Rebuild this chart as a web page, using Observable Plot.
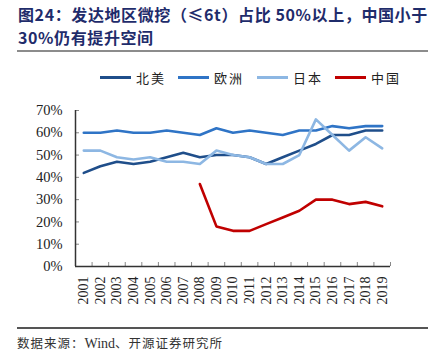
<!DOCTYPE html>
<html>
<head>
<meta charset="utf-8">
<script src="https://cdn.jsdelivr.net/npm/d3@7"></script>
<script src="https://cdn.jsdelivr.net/npm/@observablehq/plot@0.6"></script>
<style>
  body { margin: 0; background: #fff; width: 434px; height: 358px; position: relative; overflow: hidden; }
  #title { position: absolute; left: 18px; top: 3px; white-space: nowrap; font-family: "Noto Sans CJK SC", sans-serif; font-weight: bold; font-size: 16px; line-height: 23px; color: #1F2C6B; letter-spacing: 0.6px; }
  #rule1 { position: absolute; left: 17px; top: 50px; width: 411px; height: 2px; background: #8c8c8c; }
  #legend { position: absolute; left: 0; top: 68px; width: 434px; height: 18px; font-family: "Noto Sans CJK SC", sans-serif; font-size: 13px; color: #222; }
  .item { position: absolute; top: 0; display: flex; align-items: center; height: 18px; letter-spacing: 2px; }
  .sw { width: 31px; height: 3px; margin-right: 5px; }
  #chart { position: absolute; left: 0; top: 95px; }
  #rule2 { position: absolute; left: 17px; top: 327px; width: 411px; height: 1.5px; background: #555; }
  #caption { position: absolute; left: 17px; top: 333px; font-family: "Noto Sans CJK SC", sans-serif; font-size: 12.5px; color: #333; letter-spacing: 1px; }
  #caption .w { font-family: "Liberation Serif", serif; font-size: 14px; letter-spacing: 0; }
</style>
</head>
<body>
<div id="title">图24：发达地区微挖（≤6t）占比 50%以上，中国小于<br>30%仍有提升空间</div>
<div id="rule1"></div>
<div id="legend"></div>
<div id="chart"></div>
<div id="rule2"></div>
<div id="caption">数据来源：<span class="w">Wind</span>、开源证券研究所</div>
<script>
const years = [2001,2002,2003,2004,2005,2006,2007,2008,2009,2010,2011,2012,2013,2014,2015,2016,2017,2018,2019];
const northAmerica = [42,45,47,46,47,49,51,49,50,50,49,46,49,52,55,59,59,61,61];
const europe = [60,60,61,60,60,61,60,59,62,60,61,60,59,61,61,63,62,63,63];
const japan = [52,52,49,48,49,47,47,46,52,50,49,46,46,50,66,59,52,58,53];
const chinaYears = [2008,2009,2010,2011,2012,2013,2014,2015,2016,2017,2018,2019];
const china = [37,18,16,16,19,22,25,30,30,28,29,27];
const seriesNames = ["北美","欧洲","日本","中国"];
const colors = ["#1F4E8A","#2F74C6","#8DB7E3","#C00000"];
const yTicks = [0,0.1,0.2,0.3,0.4,0.5,0.6,0.7];

const rows = [];
years.forEach((y,i) => {
  rows.push({year:y, v:northAmerica[i]/100, s:seriesNames[0]});
  rows.push({year:y, v:europe[i]/100, s:seriesNames[1]});
  rows.push({year:y, v:japan[i]/100, s:seriesNames[2]});
});
chinaYears.forEach((y,i) => rows.push({year:y, v:china[i]/100, s:seriesNames[3]}));

const boundaries = [...years.map(y => y - 0.5), years[years.length-1] + 0.5];

// legend
const legendX = [100, 178, 257, 335];
const legend = document.getElementById("legend");
seriesNames.forEach((n,i) => {
  const d = document.createElement("div");
  d.className = "item";
  d.style.left = legendX[i] + "px";
  d.innerHTML = `<div class="sw" style="background:${colors[i]}"></div><span>${n}</span>`;
  legend.appendChild(d);
});

const serif = "'Liberation Serif', 'Times New Roman', serif";
const plot = Plot.plot({
  width: 434,
  height: 215,
  marginTop: 15,
  marginBottom: 44,
  marginLeft: 75,
  marginRight: 44,
  style: {fontFamily: serif, fontSize: "14px", color: "#222", background: "transparent"},
  x: {domain: [years[0] - 0.5, years[years.length-1] + 0.5], label: null},
  y: {domain: [0, 0.7], label: null},
  color: {domain: seriesNames, range: colors},
  marks: [
    Plot.axisY({ticks: yTicks, tickFormat: d3.format(".0%"), tickSize: 4, dx: 4, tickPadding: 13, stroke: "#888", fontSize: 14.5, fill: "#222", label: null}),
    Plot.axisX({ticks: boundaries, tickSize: 4, dy: -4, tickFormat: () => "", stroke: "#888", label: null}),
    Plot.axisX({ticks: years, tickSize: 0, tickRotate: -90, tickPadding: 10, tickFormat: d => String(d), fontSize: 14, fill: "#222", label: null}),
    Plot.ruleY([0], {stroke: "#333", strokeWidth: 1.5}),
    Plot.ruleX([years[0] - 0.5], {stroke: "#333", strokeWidth: 1.5}),
    Plot.line(rows, {x: "year", y: "v", z: "s", stroke: "s", strokeWidth: 2.6})
  ]
});
document.getElementById("chart").appendChild(plot);
</script>
</body>
</html>
